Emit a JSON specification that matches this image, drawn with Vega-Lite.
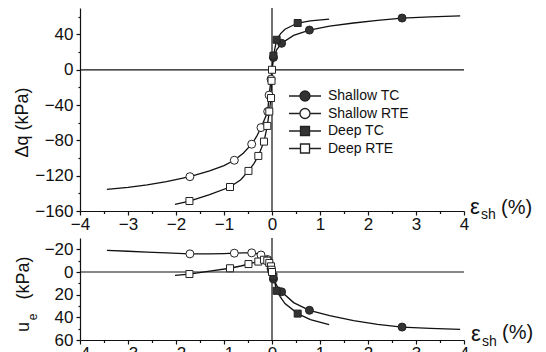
{
  "$schema": "https://vega.github.io/schema/vega-lite/v6.json",
  "background": "white",
  "padding": {"left": 13, "top": 7, "right": 0, "bottom": 0},
  "spacing": 5,
  "config": {
    "view": {"stroke": null},
    "font": "Liberation Sans",
    "axis": {"grid": false, "domainColor": "#111", "tickColor": "#111", "labelColor": "#111", "titleColor": "#111", "labelFontSize": 17, "domainWidth": 1.2, "tickWidth": 1.2, "labelFont": "Liberation Sans", "titleFont": "Liberation Sans", "titleFontWeight": "normal", "labelOverlap": false}
  },
  "datasets": {
    "curves": [
      {"series": "Shallow RTE", "x": -3.44, "dq": -135.5, "ue": -19.0},
      {"series": "Shallow RTE", "x": -3.0, "dq": -133.2, "ue": -18.3},
      {"series": "Shallow RTE", "x": -2.6, "dq": -130.5, "ue": -17.6},
      {"series": "Shallow RTE", "x": -2.2, "dq": -126.8, "ue": -16.8},
      {"series": "Shallow RTE", "x": -1.71, "dq": -121.1, "ue": -16.0},
      {"series": "Shallow RTE", "x": -1.3, "dq": -114.5, "ue": -16.0},
      {"series": "Shallow RTE", "x": -1.0, "dq": -108.5, "ue": -16.3},
      {"series": "Shallow RTE", "x": -0.785, "dq": -102.5, "ue": -16.6},
      {"series": "Shallow RTE", "x": -0.6, "dq": -94.5, "ue": -16.8},
      {"series": "Shallow RTE", "x": -0.423, "dq": -84.3, "ue": -16.9},
      {"series": "Shallow RTE", "x": -0.32, "dq": -75.5, "ue": -16.2},
      {"series": "Shallow RTE", "x": -0.229, "dq": -65.5, "ue": -15.0},
      {"series": "Shallow RTE", "x": -0.15, "dq": -55.5, "ue": -13.3},
      {"series": "Shallow RTE", "x": -0.09, "dq": -47.3, "ue": -11.0},
      {"series": "Shallow RTE", "x": -0.06, "dq": -28.7, "ue": -8.0},
      {"series": "Shallow RTE", "x": -0.02, "dq": -10.6, "ue": -3.0},
      {"series": "Shallow RTE", "x": 0, "dq": 0, "ue": 0},
      {"series": "Deep RTE", "x": -2.02, "dq": -152.5, "ue": 3.0},
      {"series": "Deep RTE", "x": -1.72, "dq": -148.7, "ue": 1.8},
      {"series": "Deep RTE", "x": -1.3, "dq": -141.5, "ue": -0.8},
      {"series": "Deep RTE", "x": -0.875, "dq": -132.8, "ue": -3.3},
      {"series": "Deep RTE", "x": -0.65, "dq": -124.5, "ue": -5.3},
      {"series": "Deep RTE", "x": -0.49, "dq": -114.6, "ue": -7.0},
      {"series": "Deep RTE", "x": -0.38, "dq": -106.5, "ue": -8.2},
      {"series": "Deep RTE", "x": -0.285, "dq": -97.6, "ue": -9.2},
      {"series": "Deep RTE", "x": -0.167, "dq": -81.4, "ue": -10.8},
      {"series": "Deep RTE", "x": -0.098, "dq": -63.6, "ue": -10.0},
      {"series": "Deep RTE", "x": -0.056, "dq": -47.3, "ue": -8.0},
      {"series": "Deep RTE", "x": -0.02, "dq": -32.0, "ue": -5.0},
      {"series": "Deep RTE", "x": -0.01, "dq": -12.5, "ue": -2.0},
      {"series": "Deep RTE", "x": 0, "dq": 0, "ue": 0},
      {"series": "Shallow TC", "x": 0, "dq": 0, "ue": 0},
      {"series": "Shallow TC", "x": 0.03, "dq": 14, "ue": 6.2},
      {"series": "Shallow TC", "x": 0.1, "dq": 23, "ue": 12},
      {"series": "Shallow TC", "x": 0.2, "dq": 30, "ue": 17.5},
      {"series": "Shallow TC", "x": 0.45, "dq": 39, "ue": 27},
      {"series": "Shallow TC", "x": 0.78, "dq": 45, "ue": 33.8},
      {"series": "Shallow TC", "x": 1.2, "dq": 49.5, "ue": 38.5},
      {"series": "Shallow TC", "x": 1.7, "dq": 53, "ue": 43},
      {"series": "Shallow TC", "x": 2.2, "dq": 56, "ue": 46.3},
      {"series": "Shallow TC", "x": 2.71, "dq": 58.6, "ue": 48.6},
      {"series": "Shallow TC", "x": 3.3, "dq": 60, "ue": 49.8},
      {"series": "Shallow TC", "x": 3.92, "dq": 61, "ue": 50.7},
      {"series": "Deep TC", "x": 0, "dq": 0, "ue": 0},
      {"series": "Deep TC", "x": 0.03, "dq": 16, "ue": 4},
      {"series": "Deep TC", "x": 0.097, "dq": 34, "ue": 16.6},
      {"series": "Deep TC", "x": 0.18, "dq": 41, "ue": 22.5},
      {"series": "Deep TC", "x": 0.27, "dq": 46, "ue": 27.8},
      {"series": "Deep TC", "x": 0.535, "dq": 53, "ue": 36.7},
      {"series": "Deep TC", "x": 0.8, "dq": 55.5, "ue": 42},
      {"series": "Deep TC", "x": 1.19, "dq": 57.5, "ue": 46.5}
    ],
    "markers": [
      {"series": "Shallow TC", "x": 0.03, "dq": 14, "ue": 6.2},
      {"series": "Shallow TC", "x": 0.2, "dq": 30, "ue": 17.5},
      {"series": "Shallow TC", "x": 0.78, "dq": 45, "ue": 33.8},
      {"series": "Shallow TC", "x": 2.71, "dq": 58.6, "ue": 48.6},
      {"series": "Deep TC", "x": 0.03, "dq": 16, "ue": 4},
      {"series": "Deep TC", "x": 0.097, "dq": 34, "ue": 16.6},
      {"series": "Deep TC", "x": 0.535, "dq": 53, "ue": 36.7},
      {"series": "Shallow RTE", "x": -1.71, "dq": -121.1, "ue": -16.0},
      {"series": "Shallow RTE", "x": -0.785, "dq": -102.5, "ue": -16.6},
      {"series": "Shallow RTE", "x": -0.423, "dq": -84.3, "ue": -16.9},
      {"series": "Shallow RTE", "x": -0.229, "dq": -65.5, "ue": -15.0},
      {"series": "Shallow RTE", "x": -0.09, "dq": -47.3, "ue": -11.0},
      {"series": "Shallow RTE", "x": -0.06, "dq": -28.7, "ue": -8.0},
      {"series": "Shallow RTE", "x": -0.02, "dq": -10.6, "ue": -3.0},
      {"series": "Deep RTE", "x": -1.72, "dq": -148.7, "ue": 1.8},
      {"series": "Deep RTE", "x": -0.875, "dq": -132.8, "ue": -3.3},
      {"series": "Deep RTE", "x": -0.49, "dq": -114.6, "ue": -7.0},
      {"series": "Deep RTE", "x": -0.285, "dq": -97.6, "ue": -9.2},
      {"series": "Deep RTE", "x": -0.167, "dq": -81.4, "ue": -10.8},
      {"series": "Deep RTE", "x": -0.098, "dq": -63.6, "ue": -10.0},
      {"series": "Deep RTE", "x": -0.056, "dq": -47.3, "ue": -8.0},
      {"series": "Deep RTE", "x": -0.02, "dq": -32.0, "ue": -5.0},
      {"series": "Deep RTE", "x": -0.01, "dq": -12.5, "ue": -2.0},
      {"series": "Deep RTE", "x": 0, "dq": 0, "ue": 0}
    ]
  },
  "vconcat": [
    {
      "width": 384,
      "height": 203,
      "layer": [
        {
          "data": {"name": "curves"},
          "mark": {"type": "line", "color": "#111", "strokeWidth": 1.3},
          "encoding": {
            "x": {"field": "x", "type": "quantitative", "scale": {"domain": [-4, 4], "nice": false, "zero": false},
                  "axis": {"title": null, "tickCount": 100, "values": [-4,-3.5,-3,-2.5,-2,-1.5,-1,-0.5,0,0.5,1,1.5,2,2.5,3,3.5,4], "labelExpr": "datum.value % 1 === 0 ? format(datum.value, 'd') : ''", "tickSize": {"condition": {"test": "datum.value % 1 === 0", "value": 4}, "value": 2.5}, "labelPadding": 1, "labelFlush": false, "labelOverlap": false}},
            "y": {"field": "dq", "type": "quantitative", "scale": {"domain": [-160, 70], "nice": false, "zero": false},
                  "axis": {"title": "Δq (kPa)", "titleFontSize": 18, "titlePadding": 3, "titleY": 114, "tickCount": 100, "values": [-160,-140,-120,-100,-80,-60,-40,-20,0,20,40,60], "labelExpr": "datum.value % 40 === 0 ? format(datum.value, 'd') : ''", "tickSize": {"condition": {"test": "datum.value % 40 === 0", "value": 4}, "value": 2}, "labelPadding": 3, "labelOverlap": false}},
            "detail": {"field": "series", "type": "nominal"}
          }
        },
        {
          "data": {"values": [{}]},
          "mark": {"type": "rule", "color": "#111", "strokeWidth": 1.2},
          "encoding": {"y": {"datum": 0, "type": "quantitative"}}
        },
        {
          "data": {"values": [{}]},
          "mark": {"type": "rule", "color": "#111", "strokeWidth": 1.2},
          "encoding": {"x": {"datum": 0, "type": "quantitative"}}
        },
        {
          "data": {"name": "markers"},
          "transform": [{"filter": "datum.series === 'Shallow TC'"}],
          "mark": {"type": "point", "shape": "circle", "filled": true, "fill": "#333333", "size": 64, "stroke": "#222", "strokeWidth": 1, "opacity": 1},
          "encoding": {"x": {"field": "x", "type": "quantitative"}, "y": {"field": "dq", "type": "quantitative"}}
        },
        {
          "data": {"name": "markers"},
          "transform": [{"filter": "datum.series === 'Shallow RTE'"}],
          "mark": {"type": "point", "shape": "circle", "filled": true, "fill": "#ffffff", "size": 64, "stroke": "#222", "strokeWidth": 1, "opacity": 1},
          "encoding": {"x": {"field": "x", "type": "quantitative"}, "y": {"field": "dq", "type": "quantitative"}}
        },
        {
          "data": {"name": "markers"},
          "transform": [{"filter": "datum.series === 'Deep TC'"}],
          "mark": {"type": "point", "shape": "square", "filled": true, "fill": "#333333", "size": 49, "stroke": "#222", "strokeWidth": 1, "opacity": 1},
          "encoding": {"x": {"field": "x", "type": "quantitative"}, "y": {"field": "dq", "type": "quantitative"}}
        },
        {
          "data": {"name": "markers"},
          "transform": [{"filter": "datum.series === 'Deep RTE'"}],
          "mark": {"type": "point", "shape": "square", "filled": true, "fill": "#ffffff", "size": 49, "stroke": "#222", "strokeWidth": 1, "opacity": 1},
          "encoding": {"x": {"field": "x", "type": "quantitative"}, "y": {"field": "dq", "type": "quantitative"}}
        },
        {
          "data": {"name": "markers"},
          "transform": [{"filter": "false"}],
          "mark": {"type": "point", "filled": true, "stroke": "#222", "strokeWidth": 1.2, "opacity": 1},
          "encoding": {
            "x": {"field": "x", "type": "quantitative"},
            "y": {"field": "dq", "type": "quantitative"},
            "fill": {"field": "series", "type": "nominal",
                     "scale": {"domain": ["Shallow TC","Shallow RTE","Deep TC","Deep RTE"], "range": ["#333333","#ffffff","#333333","#ffffff"]},
                     "legend": {"title": null, "orient": "none", "legendX": 218, "legendY": 81, "labelFontSize": 14, "labelFont": "Liberation Sans", "labelColor": "#111", "symbolSize": 100, "symbolStrokeWidth": 1.3, "labelOffset": 16, "rowPadding": 1.5, "symbolOpacity": 1, "padding": 0}},
            "shape": {"field": "series", "type": "nominal",
                      "scale": {"domain": ["Shallow TC","Shallow RTE","Deep TC","Deep RTE"], "range": ["M-3.2,0H-1M1,0H3.2M-1,0A1,1,0,1,1,1,0A1,1,0,1,1,-1,0Z", "M-3.2,0H-1M1,0H3.2M-1,0A1,1,0,1,1,1,0A1,1,0,1,1,-1,0Z", "M-3.2,0H-0.9M0.9,0H3.2M-0.9,-0.9H0.9V0.9H-0.9Z", "M-3.2,0H-0.9M0.9,0H3.2M-0.9,-0.9H0.9V0.9H-0.9Z"]},
                      "legend": {"title": null, "orient": "none", "legendX": 218, "legendY": 81, "labelFontSize": 14, "labelFont": "Liberation Sans", "labelColor": "#111", "symbolSize": 100, "symbolStrokeWidth": 1.3, "labelOffset": 16, "rowPadding": 1.5, "symbolOpacity": 1, "padding": 0}}
          }
        },
        {
          "data": {"values": [{}]},
          "mark": {"type": "text", "text": "ε", "align": "left", "baseline": "alphabetic", "dx": 6, "dy": 3, "fontSize": 22, "color": "#111"},
          "encoding": {"x": {"datum": 4, "type": "quantitative"}, "y": {"datum": -160, "type": "quantitative"}}
        },
        {
          "data": {"values": [{}]},
          "mark": {"type": "text", "text": "sh", "align": "left", "baseline": "alphabetic", "dx": 17, "dy": 8, "fontSize": 14, "color": "#111"},
          "encoding": {"x": {"datum": 4, "type": "quantitative"}, "y": {"datum": -160, "type": "quantitative"}}
        },
        {
          "data": {"values": [{}]},
          "mark": {"type": "text", "text": "(%)", "align": "left", "baseline": "alphabetic", "dx": 37, "dy": 3, "fontSize": 20, "color": "#111"},
          "encoding": {"x": {"datum": 4, "type": "quantitative"}, "y": {"datum": -160, "type": "quantitative"}}
        }
      ]
    },
    {
      "width": 384,
      "height": 102,
      "layer": [
        {
          "data": {"name": "curves"},
          "mark": {"type": "line", "color": "#111", "strokeWidth": 1.3},
          "encoding": {
            "x": {"field": "x", "type": "quantitative", "scale": {"domain": [-4, 4], "nice": false, "zero": false},
                  "axis": {"title": null, "tickCount": 100, "values": [-4,-3.5,-3,-2.5,-2,-1.5,-1,-0.5,0,0.5,1,1.5,2,2.5,3,3.5,4], "labelExpr": "datum.value % 1 === 0 ? format(datum.value, 'd') : ''", "tickSize": {"condition": {"test": "datum.value % 1 === 0", "value": 4}, "value": 2.5}, "labelPadding": 1, "labelFlush": false, "labelOverlap": false}},
            "y": {"field": "ue", "type": "quantitative", "scale": {"domain": [60, -30], "nice": false, "zero": false},
                  "axis": {"title": null, "tickCount": 100, "values": [-20, -10, 0, 10, 20, 30, 40, 50, 60], "labelExpr": "datum.value % 20 === 0 ? format(datum.value, 'd') : ''", "tickSize": {"condition": {"test": "datum.value % 20 === 0", "value": 4}, "value": 2}, "labelPadding": 3, "labelOverlap": false}},
            "detail": {"field": "series", "type": "nominal"}
          }
        },
        {
          "data": {"values": [{}]},
          "mark": {"type": "rule", "color": "#111", "strokeWidth": 1.2},
          "encoding": {"y": {"datum": 0, "type": "quantitative"}}
        },
        {
          "data": {"values": [{}]},
          "mark": {"type": "rule", "color": "#111", "strokeWidth": 1.2},
          "encoding": {"x": {"datum": 0, "type": "quantitative"}}
        },
        {
          "data": {"name": "markers"},
          "transform": [{"filter": "datum.series === 'Shallow TC'"}],
          "mark": {"type": "point", "shape": "circle", "filled": true, "fill": "#333333", "size": 64, "stroke": "#222", "strokeWidth": 1, "opacity": 1},
          "encoding": {"x": {"field": "x", "type": "quantitative"}, "y": {"field": "ue", "type": "quantitative"}}
        },
        {
          "data": {"name": "markers"},
          "transform": [{"filter": "datum.series === 'Shallow RTE'"}],
          "mark": {"type": "point", "shape": "circle", "filled": true, "fill": "#ffffff", "size": 64, "stroke": "#222", "strokeWidth": 1, "opacity": 1},
          "encoding": {"x": {"field": "x", "type": "quantitative"}, "y": {"field": "ue", "type": "quantitative"}}
        },
        {
          "data": {"name": "markers"},
          "transform": [{"filter": "datum.series === 'Deep TC'"}],
          "mark": {"type": "point", "shape": "square", "filled": true, "fill": "#333333", "size": 49, "stroke": "#222", "strokeWidth": 1, "opacity": 1},
          "encoding": {"x": {"field": "x", "type": "quantitative"}, "y": {"field": "ue", "type": "quantitative"}}
        },
        {
          "data": {"name": "markers"},
          "transform": [{"filter": "datum.series === 'Deep RTE'"}],
          "mark": {"type": "point", "shape": "square", "filled": true, "fill": "#ffffff", "size": 49, "stroke": "#222", "strokeWidth": 1, "opacity": 1},
          "encoding": {"x": {"field": "x", "type": "quantitative"}, "y": {"field": "ue", "type": "quantitative"}}
        },
        {
          "data": {"values": [{}]},
          "mark": {"type": "text", "text": "ε", "align": "left", "baseline": "alphabetic", "dx": 7, "dy": 1, "fontSize": 22, "color": "#111"},
          "encoding": {"x": {"datum": 4, "type": "quantitative"}, "y": {"datum": 60, "type": "quantitative"}}
        },
        {
          "data": {"values": [{}]},
          "mark": {"type": "text", "text": "sh", "align": "left", "baseline": "alphabetic", "dx": 18, "dy": 6, "fontSize": 14, "color": "#111"},
          "encoding": {"x": {"datum": 4, "type": "quantitative"}, "y": {"datum": 60, "type": "quantitative"}}
        },
        {
          "data": {"values": [{}]},
          "mark": {"type": "text", "text": "(%)", "align": "left", "baseline": "alphabetic", "dx": 38, "dy": -1, "fontSize": 20, "color": "#111"},
          "encoding": {"x": {"datum": 4, "type": "quantitative"}, "y": {"datum": 60, "type": "quantitative"}}
        },
        {
          "data": {"values": [{}]},
          "mark": {"type": "text", "text": "u", "angle": 270, "align": "center", "baseline": "alphabetic", "dx": 13, "dy": -51, "fontSize": 18, "color": "#111"},
          "encoding": {"x": {"datum": -4, "type": "quantitative"}, "y": {"datum": 60, "type": "quantitative"}}
        },
        {
          "data": {"values": [{}]},
          "mark": {"type": "text", "text": "e", "angle": 270, "align": "center", "baseline": "alphabetic", "dx": 23, "dy": -43, "fontSize": 12, "color": "#111"},
          "encoding": {"x": {"datum": -4, "type": "quantitative"}, "y": {"datum": 60, "type": "quantitative"}}
        },
        {
          "data": {"values": [{}]},
          "mark": {"type": "text", "text": "(kPa)", "angle": 270, "align": "center", "baseline": "alphabetic", "dx": 62, "dy": -51, "fontSize": 18, "color": "#111"},
          "encoding": {"x": {"datum": -4, "type": "quantitative"}, "y": {"datum": 60, "type": "quantitative"}}
        }
      ]
    }
  ]
}
